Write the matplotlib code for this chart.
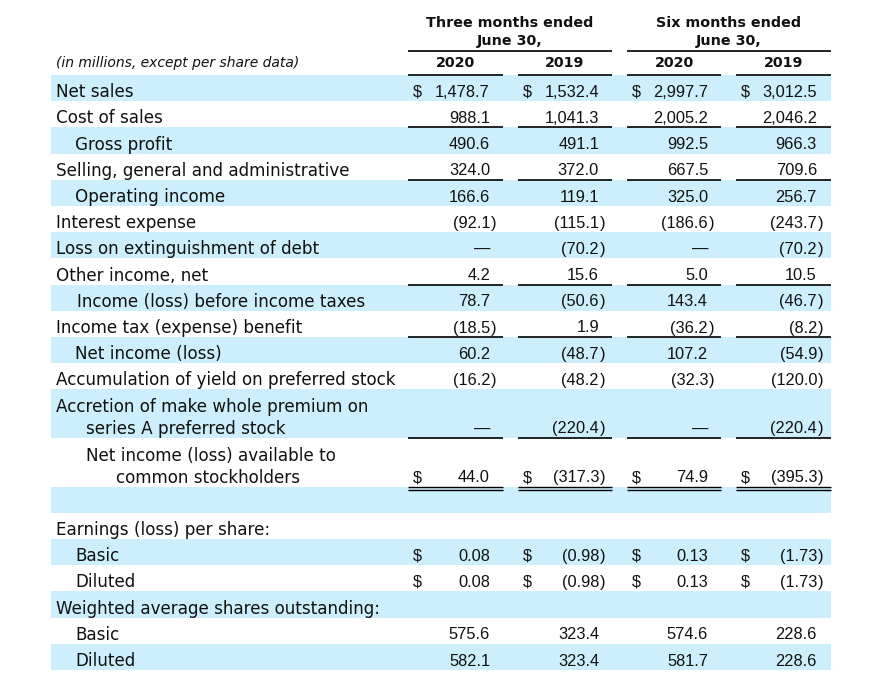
import matplotlib
matplotlib.use("Agg")
import matplotlib.pyplot as plt
from matplotlib.patches import Rectangle

# ---------------- data ----------------
group_headers = ["Three months ended\nJune 30,", "Six months ended\nJune 30,"]
years = ["2020", "2019", "2020", "2019"]
unit_note = "(in millions, except per share data)"

income_labels = [
    "Net sales", "Cost of sales", "Gross profit",
    "Selling, general and administrative", "Operating income",
    "Interest expense", "Loss on extinguishment of debt", "Other income, net",
    "Income (loss) before income taxes", "Income tax (expense) benefit",
    "Net income (loss)", "Accumulation of yield on preferred stock",
    "Accretion of make whole premium on\nseries A preferred stock",
    "Net income (loss) available to\ncommon stockholders",
]
three_2020 = [1478.7, 988.1, 490.6, 324.0, 166.6, -92.1, None, 4.2, 78.7, -18.5, 60.2, -16.2, None, 44.0]
three_2019 = [1532.4, 1041.3, 491.1, 372.0, 119.1, -115.1, -70.2, 15.6, -50.6, 1.9, -48.7, -48.2, -220.4, -317.3]
six_2020 = [2997.7, 2005.2, 992.5, 667.5, 325.0, -186.6, None, 5.0, 143.4, -36.2, 107.2, -32.3, None, 74.9]
six_2019 = [3012.5, 2046.2, 966.3, 709.6, 256.7, -243.7, -70.2, 10.5, -46.7, -8.2, -54.9, -120.0, -220.4, -395.3]

eps_header = "Earnings (loss) per share:"
eps_labels = ["Basic", "Diluted"]
eps_basic = [0.08, -0.98, 0.13, -1.73]
eps_diluted = [0.08, -0.98, 0.13, -1.73]

shares_header = "Weighted average shares outstanding:"
shares_labels = ["Basic", "Diluted"]
shares_basic = [575.6, 323.4, 574.6, 228.6]
shares_diluted = [582.1, 323.4, 581.7, 228.6]

# ---------------- style / layout ----------------
plt.rcParams["font.family"] = ["DejaVu Sans"]
NUMFONT = ["Liberation Sans", "DejaVu Sans"]
SHADE = "#cdeefc"
FS = 12.1      # labels
NFS = 11.8     # numbers
HFS = 10.3     # bold headers
TXT = "#111111"

fig = plt.figure(figsize=(8.91, 6.94), dpi=100)
ax = fig.add_axes([0, 0, 1, 1])
ax.set_xlim(0, 891)
ax.set_ylim(694, 0)
ax.axis("off")

X0, X1 = 51, 831
LABEL_X = 56
col_left = [408, 518, 627, 736]
col_right = [503, 612, 721, 831]
num_right = [490, 599, 708, 817]

def fmt(v, dec=1):
    if v is None:
        return "\u2014", False
    s = f"{abs(v):,.{dec}f}"
    if v < 0:
        return "(" + s, True
    return s, False

def put_value(ci, v, base, dec=1, dollar=False):
    s, neg = fmt(v, dec)
    ax.text(num_right[ci], base, s, ha="right", va="baseline", fontsize=NFS,
            family=NUMFONT, color=TXT)
    if neg:
        ax.text(num_right[ci] + 0.5, base, ")", ha="left", va="baseline", fontsize=NFS,
                family=NUMFONT, color=TXT)
    if dollar:
        ax.text(col_left[ci] + 5, base, "$", ha="left", va="baseline", fontsize=NFS,
                family=NUMFONT, color=TXT)

def label(x, base, s):
    ax.text(x, base, s, ha="left", va="baseline", fontsize=FS, color=TXT)

# header
for gi, g in enumerate(group_headers):
    cx = (col_left[2 * gi] + col_right[2 * gi + 1]) / 2
    l1, l2 = g.split("\n")
    ax.text(cx, 27, l1, ha="center", va="baseline", fontsize=HFS, fontweight="bold", color=TXT)
    ax.text(cx, 45, l2, ha="center", va="baseline", fontsize=HFS, fontweight="bold", color=TXT)
    ax.hlines(50.5, col_left[2 * gi], col_right[2 * gi + 1], color="black", lw=1.2)
for ci, y in enumerate(years):
    ax.text((col_left[ci] + col_right[ci]) / 2, 67, y, ha="center", va="baseline",
            fontsize=HFS, fontweight="bold", color=TXT)
    ax.hlines(74.5, col_left[ci], col_right[ci], color="black", lw=1.2)
ax.text(LABEL_X, 67, unit_note, ha="left", va="baseline", fontsize=10.0, style="italic", color=TXT)

# row geometry
H = 26.2
HD = 48.6
indent = [0, 0, 19, 0, 19, 0, 0, 0, 21, 0, 19, 0, 0, 30]
underline_after = {1, 3, 7, 9, 12}
dollar_rows = {0, 13}
OFF = 4.0

y = 75.0
cols = [three_2020, three_2019, six_2020, six_2019]
for i, lab in enumerate(income_labels):
    h = HD if "\n" in lab else H
    if i % 2 == 0:
        ax.add_patch(Rectangle((X0, y), X1 - X0, h, color=SHADE, lw=0, zorder=0))
    base = y + h - OFF
    if "\n" in lab:
        a, b = lab.split("\n")
        label(LABEL_X + indent[i], base - 22, a)
        label(LABEL_X + indent[i] + 30, base, b)
    else:
        label(LABEL_X + indent[i], base, lab)
    for ci in range(4):
        put_value(ci, cols[ci][i], base - 0.5, 1, dollar=(i in dollar_rows))
    y += h
    if i in underline_after:
        for ci in range(4):
            ax.hlines(y, col_left[ci], col_right[ci], color="black", lw=1.2)
    if i == len(income_labels) - 1:
        for ci in range(4):
            ax.hlines(y, col_left[ci], col_right[ci], color="black", lw=1.0)
            ax.hlines(y + 3, col_left[ci], col_right[ci], color="black", lw=1.0)

# empty shaded spacer row
ax.add_patch(Rectangle((X0, y), X1 - X0, H, color=SHADE, lw=0, zorder=0))
y += H

# EPS section
label(LABEL_X, y + H - OFF, eps_header)
y += H
for k, (lab, vals) in enumerate(zip(eps_labels, [eps_basic, eps_diluted])):
    if k == 0:
        ax.add_patch(Rectangle((X0, y), X1 - X0, H, color=SHADE, lw=0, zorder=0))
    base = y + H - OFF
    label(LABEL_X + 19, base, lab)
    for ci in range(4):
        put_value(ci, vals[ci], base - 0.5, 2, dollar=True)
    y += H

# shares section
ax.add_patch(Rectangle((X0, y), X1 - X0, H, color=SHADE, lw=0, zorder=0))
label(LABEL_X, y + H - OFF, shares_header)
y += H
for k, (lab, vals) in enumerate(zip(shares_labels, [shares_basic, shares_diluted])):
    if k == 1:
        ax.add_patch(Rectangle((X0, y), X1 - X0, H, color=SHADE, lw=0, zorder=0))
    base = y + H - OFF
    label(LABEL_X + 19, base, lab)
    for ci in range(4):
        put_value(ci, vals[ci], base - 0.5, 1)
    y += H

fig.savefig("out.png", dpi=100, facecolor="white")
